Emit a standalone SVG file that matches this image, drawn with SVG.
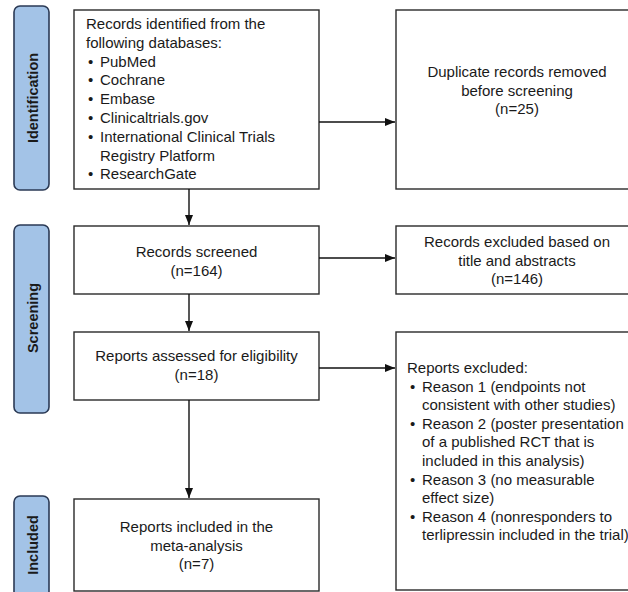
<svg xmlns="http://www.w3.org/2000/svg" width="628" height="592" viewBox="0 0 628 592">
<defs>
<marker id="ah" markerWidth="10" markerHeight="8" refX="10" refY="4" orient="auto" markerUnits="userSpaceOnUse">
<path d="M0,0 L10,4 L0,8 Z" fill="#111"/>
</marker>
<style>
.box{fill:#fff;stroke:#2a2a2a;stroke-width:1.4}
.side{fill:#a3c3e7;stroke:#2b3a55;stroke-width:1.6}
.t{font-family:"Liberation Sans",Arial,sans-serif;font-size:15px;fill:#1a1a1a}
.c{text-anchor:middle}
.lbl{font-family:"Liberation Sans",Arial,sans-serif;font-size:14.5px;font-weight:bold;fill:#1a1a1a;text-anchor:middle}
.con{stroke:#111;stroke-width:1.4;fill:none}
</style>
</defs>
<rect width="628" height="592" fill="#fff"/>

<g id="side-identification">
<rect class="side" x="14" y="6" width="35" height="184" rx="6"/>
<text class="lbl" transform="translate(38,98) rotate(-90)">Identification</text>
</g>
<g id="side-screening">
<rect class="side" x="14" y="225" width="35" height="188" rx="6"/>
<text class="lbl" transform="translate(38,318) rotate(-90)">Screening</text>
</g>
<g id="side-included">
<rect class="side" x="14" y="496" width="35" height="110" rx="6"/>
<text class="lbl" transform="translate(38,545) rotate(-90)">Included</text>
</g>

<g id="records-identified">
<rect class="box" x="74" y="10" width="245" height="179"/>
<text class="t" x="86" y="29">Records identified from the</text>
<text class="t" x="86" y="47.8">following databases:</text>
<text class="t" x="88" y="66.6">•</text><text class="t" x="100" y="66.6">PubMed</text>
<text class="t" x="88" y="85.4">•</text><text class="t" x="100" y="85.4">Cochrane</text>
<text class="t" x="88" y="104.2">•</text><text class="t" x="100" y="104.2">Embase</text>
<text class="t" x="88" y="123">•</text><text class="t" x="100" y="123">Clinicaltrials.gov</text>
<text class="t" x="88" y="141.8">•</text><text class="t" x="100" y="141.8">International Clinical Trials</text>
<text class="t" x="100" y="160.6">Registry Platform</text>
<text class="t" x="88" y="179.4">•</text><text class="t" x="100" y="179.4">ResearchGate</text>
</g>

<g id="duplicates-removed">
<rect class="box" x="396" y="10" width="244" height="179"/>
<text class="t c" x="517" y="77">Duplicate records removed</text>
<text class="t c" x="517" y="95.5">before screening</text>
<text class="t c" x="517" y="114">(n=25)</text>
</g>

<g id="records-screened">
<rect class="box" x="74" y="226" width="245" height="68"/>
<text class="t c" x="196.5" y="257">Records screened</text>
<text class="t c" x="196.5" y="276">(n=164)</text>
</g>

<g id="records-excluded">
<rect class="box" x="396" y="226" width="244" height="68"/>
<text class="t c" x="517" y="247">Records excluded based on</text>
<text class="t c" x="517" y="265.5">title and abstracts</text>
<text class="t c" x="517" y="284">(n=146)</text>
</g>

<g id="reports-assessed">
<rect class="box" x="74" y="332" width="245" height="68"/>
<text class="t c" x="196.5" y="361">Reports assessed for eligibility</text>
<text class="t c" x="196.5" y="379.5">(n=18)</text>
</g>

<g id="reports-excluded">
<rect class="box" x="396" y="332" width="244" height="258"/>
<text class="t" x="407" y="373">Reports excluded:</text>
<text class="t" x="410" y="391.6">•</text><text class="t" x="422" y="391.6">Reason 1 (endpoints not</text>
<text class="t" x="422" y="410.2">consistent with other studies)</text>
<text class="t" x="410" y="428.8">•</text><text class="t" x="422" y="428.8">Reason 2 (poster presentation</text>
<text class="t" x="422" y="447.4">of a published RCT that is</text>
<text class="t" x="422" y="466">included in this analysis)</text>
<text class="t" x="410" y="484.6">•</text><text class="t" x="422" y="484.6">Reason 3 (no measurable</text>
<text class="t" x="422" y="503.2">effect size)</text>
<text class="t" x="410" y="521.8">•</text><text class="t" x="422" y="521.8">Reason 4 (nonresponders to</text>
<text class="t" x="422" y="540.4">terlipressin included in the trial)</text>
</g>

<g id="reports-included">
<rect class="box" x="74" y="499" width="245" height="92"/>
<text class="t c" x="196.5" y="532">Reports included in the</text>
<text class="t c" x="196.5" y="550.5">meta-analysis</text>
<text class="t c" x="196.5" y="569">(n=7)</text>
</g>

<g id="connectors">
<line class="con" x1="319" y1="122" x2="395" y2="122" marker-end="url(#ah)"/>
<line class="con" x1="189" y1="189" x2="189" y2="225" marker-end="url(#ah)"/>
<line class="con" x1="319" y1="258" x2="395" y2="258" marker-end="url(#ah)"/>
<line class="con" x1="189" y1="294" x2="189" y2="331" marker-end="url(#ah)"/>
<line class="con" x1="319" y1="368" x2="395" y2="368" marker-end="url(#ah)"/>
<line class="con" x1="189" y1="400" x2="189" y2="498" marker-end="url(#ah)"/>
</g>
</svg>
